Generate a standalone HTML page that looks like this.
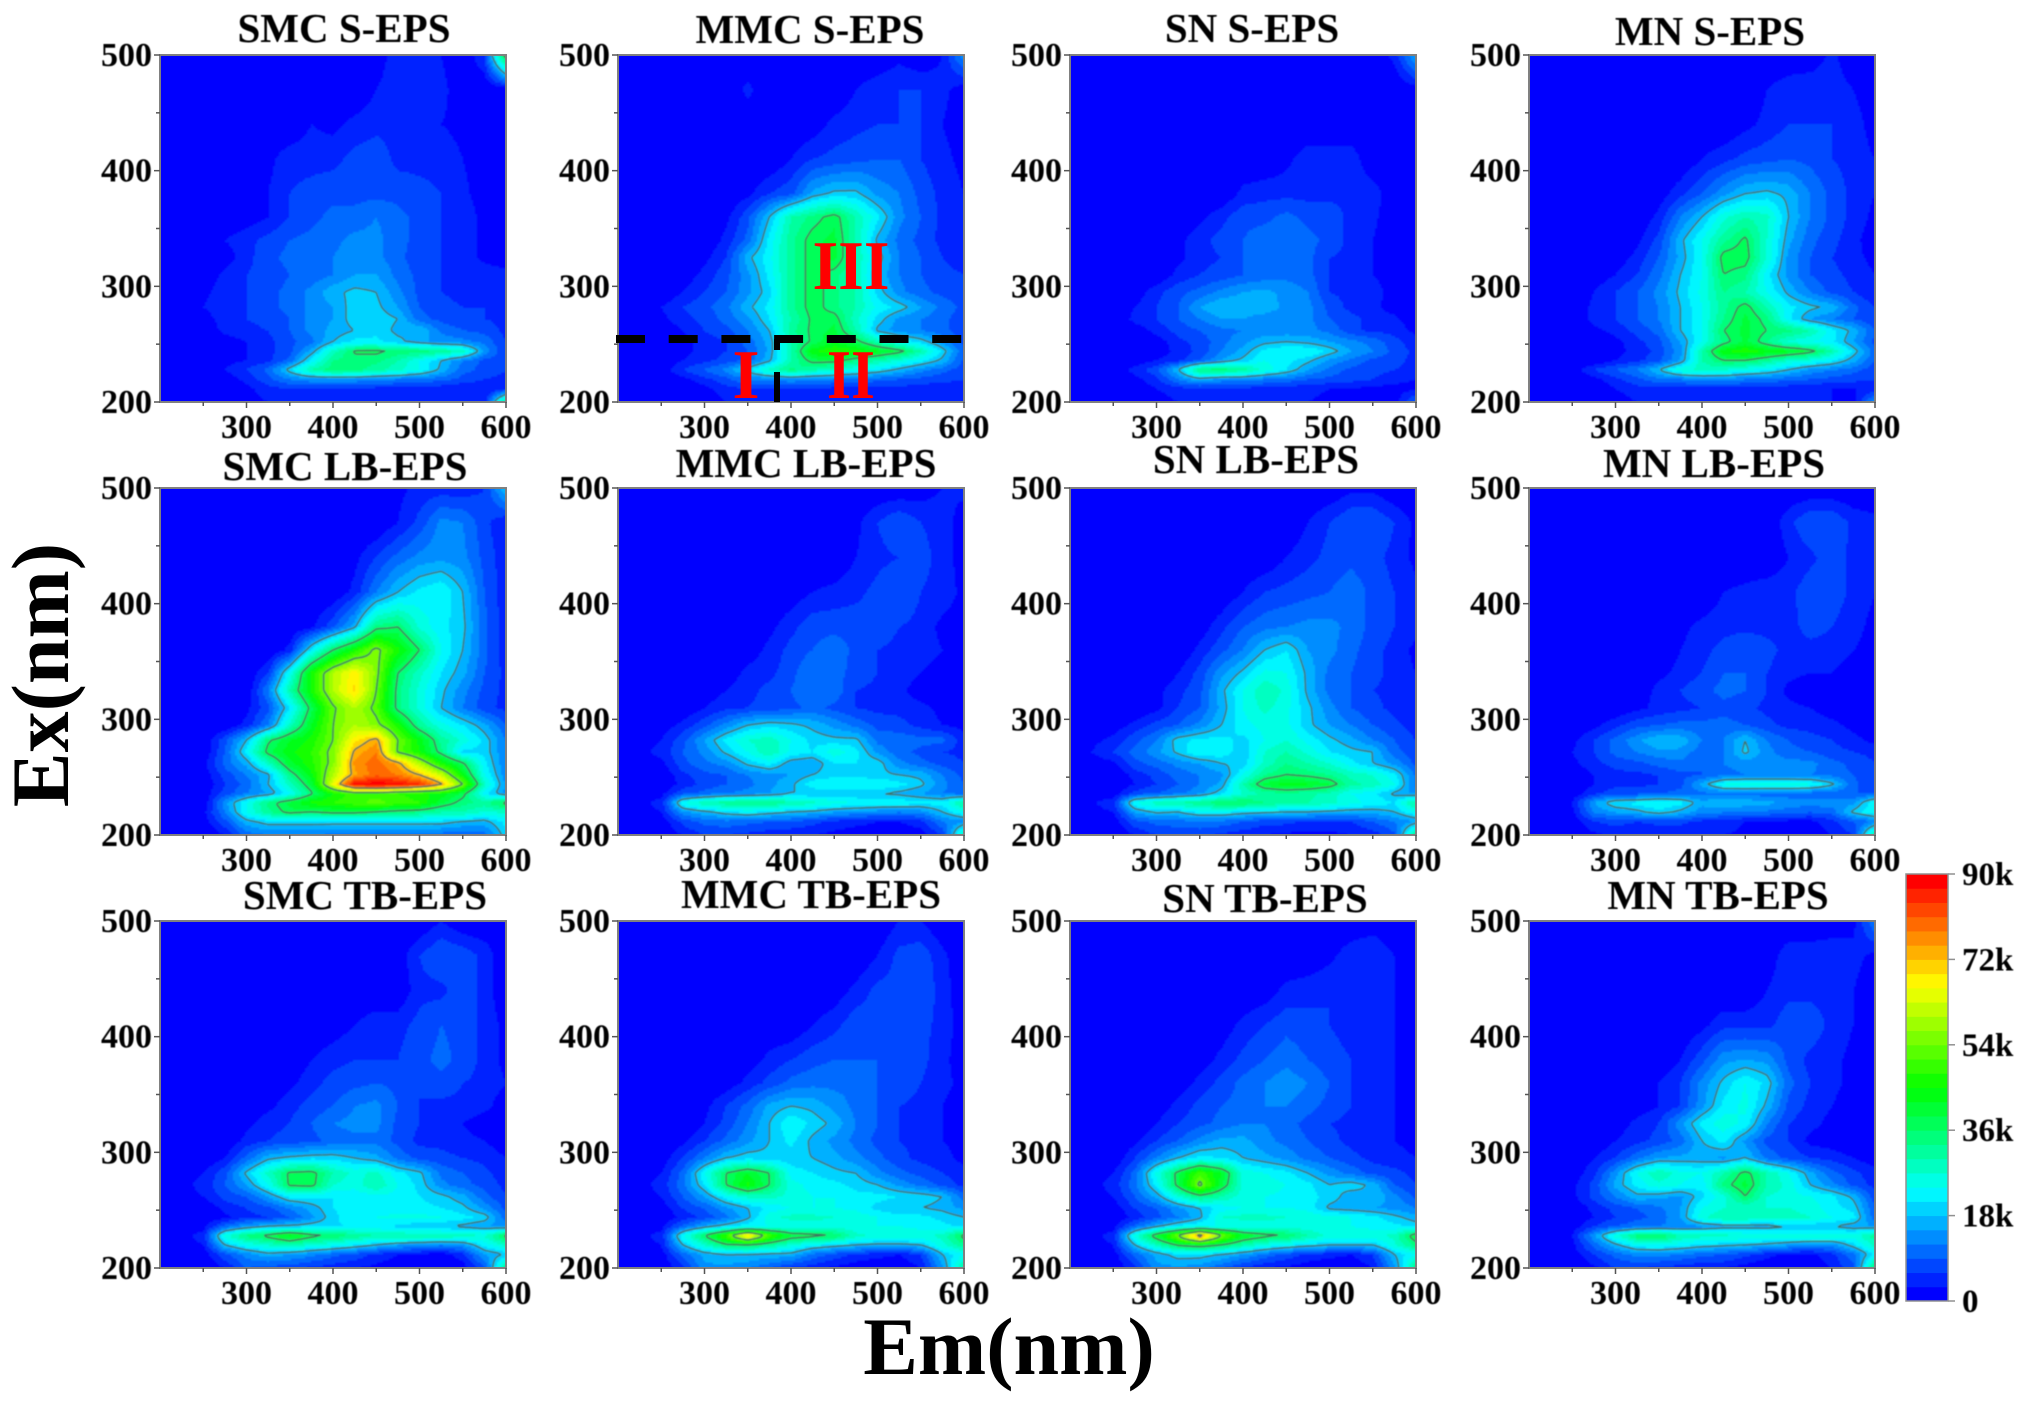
<!DOCTYPE html>
<html lang="en">
<head>
<meta charset="utf-8">
<title>EEM fluorescence contour panels</title>
<style>
html,body{margin:0;padding:0;background:#fff;width:2028px;height:1410px;overflow:hidden}
svg{display:block;position:absolute;left:0;top:0}
text{font-family:"Liberation Serif",serif;font-weight:bold;fill:#000}
</style>
</head>
<body>
<svg id="chart" xmlns="http://www.w3.org/2000/svg" width="2028" height="1410" viewBox="0 0 2028 1410">
<defs>
<filter id="soft" x="-5%" y="-5%" width="110%" height="110%"><feGaussianBlur stdDeviation="0.9"/></filter>
<filter id="softText" x="-5%" y="-5%" width="110%" height="110%"><feGaussianBlur stdDeviation="0.45"/></filter>
</defs>
<rect x="0" y="0" width="2028" height="1410" fill="#fff"/>
<g id="plots"></g>
<g id="colorbar"></g>
<g font-size="41" text-anchor="middle" filter="url(#softText)">
<text x="344" y="42">SMC S-EPS</text>
<text x="810" y="43">MMC S-EPS</text>
<text x="1252" y="42">SN S-EPS</text>
<text x="1710" y="45">MN S-EPS</text>
<text x="345" y="480">SMC LB-EPS</text>
<text x="806" y="477">MMC LB-EPS</text>
<text x="1256" y="473">SN LB-EPS</text>
<text x="1714" y="477">MN LB-EPS</text>
<text x="365" y="909">SMC TB-EPS</text>
<text x="811" y="908">MMC TB-EPS</text>
<text x="1265" y="912">SN TB-EPS</text>
<text x="1718" y="909">MN TB-EPS</text>
</g>
<text font-size="82" text-anchor="middle" transform="translate(68,675) rotate(-90)">Ex(nm)</text>
<text font-size="82" text-anchor="middle" transform="translate(1009,1374)">Em(nm)</text>
<g>
<line x1="616" y1="339" x2="962" y2="339" stroke="#000" stroke-width="8" stroke-dasharray="29 23.7"/>
<line x1="777" y1="402" x2="777" y2="339" stroke="#000" stroke-width="6" stroke-dasharray="30 22"/>
<text style="fill:#f00" font-size="70" text-anchor="middle" x="746" y="398">I</text>
<text style="fill:#f00" font-size="70" text-anchor="middle" x="851" y="398" textLength="48" lengthAdjust="spacingAndGlyphs">II</text>
<text style="fill:#f00" font-size="70" text-anchor="middle" x="851" y="289" textLength="77" lengthAdjust="spacingAndGlyphs">III</text>
</g>
</svg>
<script>
const emAxis=[200,250,275,300,325,350,375,400,425,450,475,500,525,550,575,600];
const exAxis=[500,470,440,410,380,360,340,325,310,295,282,272,262,252,244,236,228,220,212,200];
const emMajorTicks=[300,400,500,600];
const emMinorTicks=[250,350,450,550];
const exMajorTicks=[200,300,400,500];
const exMinorTicks=[250,350,450];
const colorbarTicks=[0,18,36,54,72,90];
const colorbarLabels=['0','18k','36k','54k','72k','90k'];
const contourLevels=[18,36,54,72];
const bandCount=30;
const maxIntensity=90;

const smcS=[
[0,0,0,0,0,0,0,0,0,1,5,5,3,0,6,40],
[0,0,0,0,0,0,0,0,0,3,5,5,4,1,0,0],
[0,0,0,0,0,0,3,2,4,5,5,5,3,2,0,0],
[0,0,0,0,2,5,5,5,7,8,5,5,5,3,1,2],
[0,0,0,0,3,6,7,8,8,8,8,7,6,4,1,2],
[0,0,0,1,3,6,8,10,10,12,10,8,6,5,2,1],
[0,0,3,5,7,9,10,11,13,13,10,8,6,5,2,1],
[0,0,1,5,8,10,11,12,14,13,10,7,6,5,2,1],
[0,0,4,6,7,9,10,12,15,15,11,8,6,5,5,4],
[0,2,5,6,8,10,13,17,19,18,13,8,6,5,4,3],
[0,3,5,6,8,10,13,15,20,19,15,9,7,6,6,4],
[0,1,5,6,7,9,13,15,20,20,18,10,8,7,6,5],
[0,0,4,5,6,9,13,16,18,20,17,18,11,9,8,5],
[0,0,1,3,5,8,11,18,22,22,19,16,14,13,11,6],
[0,0,1,3,5,8,16,28,36.5,37,35,34,32,28,14,6],
[0,0,2,3,5,10,22,33,35,34,30,24,18,12,8,6],
[0,0,3,6,10,20,30,35,34,31,28,24,17,10,8,6],
[0,0,1,4,8,12,14,14,14,13,12,11,10,8,6,5],
[0,0,0,2,5,6,6,6,6,5,5,5,4,3,3,3],
[0,0,0,1,3,3,3,3,3,3,3,3,3,3,3,35]];
const mmcS=[
[0,0,0,0,0,0,0,0,0,0,0,0,2,0,3,14],
[0,0,0,0,0,4,0,0,0,0,3,5,6,6,4,1],
[0,0,0,0,0,0,0,0,1,4,5,6,6,6,3,1],
[0,0,0,0,0,0,0,3,6,7,8,9,9,6,4,2],
[0,0,0,0,0,2,6,8,16,19,19,14,12,8,5,3],
[0,0,0,0,2,8,18,30,34,38,30,22,13,9,5,3],
[0,0,0,0,4,10,22,32,38,40,30,17,11,8,5,3],
[0,0,0,2,6,17,23,32,38,40,30,20,12,9,6,4],
[0,0,1,4,8,14,22,32,38,34,30,17,12,9,7,6],
[0,0,3,6,9,14,20,32,38,34,30,20,13,10,8,7],
[0,3,6,8,11,17,22,32,38,34,30,23,20,15,11,8],
[0,2,5,7,10,14,21,30,37,38,28,20,14,12,10,7],
[0,0,3,6,8,12,18,32,37,40,30,17,13,12,10,7],
[0,0,2,4,6,10,16,30,37,42,38,30,24,20,14,8],
[0,0,2,4,6,9,16,30,44,48,46,42,38,30,20,9],
[0,0,3,5,7,10,17,30,38,38,33,30,26,22,17,8],
[0,1,6,9,13,20,28,34,30,27,24,21,17,13,10,7],
[0,0,2,5,8,12,13,14,13,12,11,10,9,8,7,6],
[0,0,0,2,5,6,6,6,6,5,5,5,5,4,4,4],
[0,0,0,0,3,3,3,3,3,3,3,3,3,3,3,6]];
const snS=[
[0,0,0,0,0,0,0,0,0,0,0,0,0,0,4,16],
[0,0,0,0,0,0,0,0,0,0,0,1,3,0,0,1],
[0,0,0,0,0,0,0,0,0,0,0,0,0,0,0,0],
[0,0,0,0,0,0,0,0,0,2,5,5,5,0,0,0],
[0,0,0,0,0,0,0,4,5,5,5,5,5,5,0,0],
[0,0,0,0,0,2,5,8,8,10,8,8,5,4,0,0],
[0,0,0,0,2,5,7,9,11,12,10,8,5,3,0,0],
[0,0,0,0,2,5,6,9,10,11,10,6,5,3,0,0],
[0,0,0,0,4,6,7,9,10,11,10,6,4,3,1,0],
[0,0,1,5,8,10,13,15,16,14,12,6,5,5,1,0],
[0,0,3,6,9,15,18,17,17,14,13,8,5,4,1,0],
[0,0,4,6,9,12,15,15,13,13,13,9,7,5,4,0],
[0,0,1,4,7,9,11,12,13,13,13,11,7,5,5,2],
[0,0,0,1,5,7,11,14,17,18,17,15,13,11,7,4],
[0,0,0,1,4,7,12,16,22,24,24,20,15,12,8,5],
[0,0,1,3,5,9,15,19,24,22,19,14,11,8,7,5],
[0,1,4,8,18,34,35,32,26,21,15,11,8,7,6,5],
[0,0,2,5,12,17,14,14,12,11,9,8,7,6,4,3],
[0,0,1,3,5,5,5,5,5,4,4,3,3,2,2,2],
[0,0,0,1,3,3,3,3,3,3,3,2,1,0,1,10]];
const mnS=[
[0,0,0,0,0,0,0,0,0,0,0,0,0,4,0,0],
[0,0,0,0,0,0,0,0,0,0,3,5,6,5,3,0],
[0,0,0,0,0,0,0,0,0,2,4,6,6,6,5,1],
[0,0,0,0,0,0,0,3,5,7,8,9,8,6,5,3],
[0,0,0,0,0,1,5,9,14,18,19,17,12,8,5,3],
[0,0,0,0,0,4,12,18,26,30,28,18,12,8,5,2],
[0,0,0,0,2,7,17,24,32,37,27,16,10,7,4,1],
[0,0,0,1,4,9,16,24,38,38,27,14,9,6,4,2],
[0,0,1,3,6,11,18,24,36,34,22,14,9,7,5,3],
[0,0,3,6,9,13,19,25,33,30,24,17,12,8,6,3],
[0,0,4,6,9,12,18,24,32,38,30,22,19,17,10,6],
[0,0,4,6,9,12,18,24,33,40,34,22,15,12,9,6],
[0,0,2,4,7,10,18,24,36,40,36,34,30,22,17,9],
[0,0,0,2,5,8,15,24,34,40,33,26,24,22,15,8],
[0,0,0,2,4,7,14,30,44,47,44,42,38,30,20,10],
[0,0,0,3,5,8,15,30,36,36,32,27,25,22,16,9],
[0,1,6,9,12,18,26,28,27,24,22,18,14,12,10,7],
[0,0,2,5,8,11,12,13,13,12,11,10,9,8,7,6],
[0,0,0,3,5,5,5,5,5,5,4,4,3,3,3,3],
[0,0,0,1,3,3,3,3,3,3,3,3,3,3,2,14]];
const smcLb=[
[0,0,0,0,0,0,0,0,0,0,2,4,4,4,6,18],
[0,0,0,0,0,0,0,0,0,0,3,7,13,12,7,3],
[0,0,0,0,0,0,0,0,2,6,10,13,14,13,8,4],
[0,0,0,0,0,0,0,0,4,12,18,22,24,18,9,4],
[0,0,0,0,0,0,2,8,17,34,36,26,22,19,10,4],
[0,0,0,0,0,4,22,36,46,56,46,36,24,18,10,4],
[0,0,0,0,6,24,46,60,68,56,36,28,21,16,9,5],
[0,0,0,0,12,30,46,60,70,54,34,26,19,13,8,5],
[0,0,0,2,8,21,38,53,60,52,34,26,18,12,7,5],
[0,0,0,4,12,28,42,54,60,56,46,32,25,21,16,9],
[0,0,8,18,35,42,46,54,68,74,54,44,32,26,20,12],
[0,0,9,22,38,44,48,56,73,78,53,45,34,20,20,12],
[0,2,10,16,28,41,47,56,76,80,74,60,46,37,22,12],
[0,1,7,12,17,33,44,60,74,80,78,72,62,44,24,13],
[0,0,6,10,18,28,40,65,88,90,88,84,73,54,28,14],
[0,1,7,12,15,23,35,45,50,50,48,46,44,38,22,14],
[0,0,14,24,34,40,46,48,50,52,50,48,40,34,32,38],
[0,2,12,24,32,38,36,38,38,36,34,33,30,30,26,28],
[0,1,8,17,20,20,20,20,20,20,20,20,20,18,17,22],
[0,0,3,10,12,12,12,11,11,11,11,11,10,9,10,20]];
const mmcLb=[
[0,0,0,0,0,0,0,0,0,0,0,0,0,1,3,4],
[0,0,0,0,0,0,0,0,0,0,2,6,9,6,5,1],
[0,0,0,0,0,0,0,0,0,0,3,5,6,7,5,1],
[0,0,0,0,0,0,0,1,3,4,5,7,9,6,5,2],
[0,0,0,0,0,0,2,5,8,8,8,8,6,5,2,1],
[0,0,0,0,0,1,4,7,9,11,8,6,5,5,3,1],
[0,0,0,0,1,4,5,8,12,10,8,6,5,3,1,0],
[0,0,0,1,3,5,7,9,12,11,6,5,4,1,0,0],
[0,0,0,3,5,6,7,8,10,8,6,5,5,4,2,1],
[0,1,4,8,13,18,20,19,17,14,11,8,7,5,3,2],
[0,3,8,15,22,27,29,24,20,19,19,11,11,10,10,4],
[0,4,9,13,19,24,30,23,21,26,22,14,10,8,6,5],
[0,2,8,11,13,19,22,16,15,21,21,20,13,10,8,6],
[0,0,5,8,9,12,14,15,18,20,20,19,18,17,12,8],
[0,0,4,7,9,11,14,17,23,24,24,24,22,19,13,9],
[0,2,8,10,12,13,15,18,18,19,18,18,17,15,12,10],
[0,4,24,30,32,34,33,30,28,25,24,23,23,22,22,32],
[0,3,14,17,20,22,20,18,17,15,14,13,12,13,18,24],
[0,1,7,10,11,10,9,9,7,5,4,3,3,5,12,14],
[0,0,3,6,6,5,4,3,3,2,1,1,0,1,6,30]];
const snLb=[
[0,0,0,0,0,0,0,0,0,0,0,0,2,2,0,0],
[0,0,0,0,0,0,0,0,0,0,3,6,9,9,6,2],
[0,0,0,0,0,0,0,0,0,3,5,7,8,7,5,2],
[0,0,0,0,0,0,0,3,6,7,8,9,11,8,6,4],
[0,0,0,0,0,1,5,9,11,12,13,13,11,8,6,4],
[0,0,0,0,0,4,8,12,18,21,15,13,10,7,5,2],
[0,0,0,0,3,7,14,19,25,24,17,11,9,7,5,3],
[0,0,0,2,5,8,17,24,30,26,17,11,9,6,5,3],
[0,0,0,2,6,9,16,24,28,25,19,13,9,7,5,3],
[0,1,4,7,9,13,18,23,25,25,19,15,12,9,7,4],
[0,4,8,12,20,22,22,20,24,27,23,19,16,12,9,6],
[0,6,10,14,19,24,23,19,27,30,26,21,19,18,10,7],
[0,2,8,10,13,15,18,19,28,33,30,27,22,18,14,8],
[0,0,4,7,10,12,14,24,33,36,35,33,29,27,22,11],
[0,0,3,6,9,12,16,30,40,43,42,39,31,29,24,11],
[0,1,7,9,11,14,20,27,31,32,31,29,24,22,17,14],
[0,5,24,29,31,32,36,36,33,31,30,28,25,23,21,32],
[0,3,15,19,18,22,22,20,19,18,18,17,16,16,18,24],
[0,1,8,10,11,11,11,9,7,7,5,5,6,9,12,15],
[0,0,3,6,6,7,5,4,3,2,2,2,3,4,8,34]];
const mnLb=[
[0,0,0,0,0,0,0,0,0,0,0,0,0,0,0,0],
[0,0,0,0,0,0,0,0,0,0,0,5,9,9,5,4],
[0,0,0,0,0,0,0,0,0,0,0,3,5,8,5,3],
[0,0,0,0,0,0,0,0,3,4,5,5,8,8,5,3],
[0,0,0,0,0,0,2,4,5,5,5,5,7,6,4,2],
[0,0,0,0,0,0,3,5,7,9,7,5,5,5,3,2],
[0,0,0,0,0,2,4,6,9,9,6,4,3,3,1,0],
[0,0,0,0,1,4,6,8,10,9,6,2,0,0,0,0],
[0,0,0,0,2,4,5,6,8,7,5,4,3,1,0,0],
[0,0,2,5,8,9,10,10,10,9,7,5,5,4,2,1],
[0,2,6,10,14,18,17,12,12,18,12,9,7,6,4,2],
[0,3,6,10,12,14,14,10,12,19,13,10,9,7,6,5],
[0,2,5,7,8,10,11,9,12,13,14,13,13,10,8,6],
[0,0,3,5,5,6,8,9,11,12,12,12,12,11,9,6],
[0,0,3,5,5,6,8,16,24,25,25,25,24,19,10,6],
[0,1,5,8,8,9,10,11,11,11,10,10,10,10,9,9],
[0,3,15,21,22,24,22,16,18,17,16,14,13,14,14,24],
[0,2,12,15,17,20,17,13,12,11,11,10,9,10,19,24],
[0,1,6,7,6,7,7,5,5,3,3,2,2,5,9,12],
[0,0,2,4,3,3,3,3,3,2,1,0,0,3,6,32]];
const smcTb=[
[0,0,0,0,0,0,0,0,0,0,0,0,3,0,0,3],
[0,0,0,0,0,0,0,0,0,0,1,6,9,8,5,0],
[0,0,0,0,0,0,0,0,0,0,0,5,5,8,5,0],
[0,0,0,0,0,0,0,1,3,5,5,7,9,8,5,2],
[0,0,0,0,0,0,3,5,6,6,6,8,10,8,5,2],
[0,0,0,0,0,2,5,7,8,9,8,6,8,6,5,3],
[0,0,0,0,2,5,7,9,12,13,9,6,5,5,4,1],
[0,0,0,2,5,6,9,12,13,13,8,6,4,3,1,0],
[0,0,0,4,6,7,8,10,11,11,8,5,5,4,3,1],
[0,0,3,10,17,19,20,20,18,16,11,8,7,6,5,3],
[0,3,8,19,28,37,38,30,26,28,22,19,11,9,7,4],
[0,4,9,15,24,37,38,27,25,30,24,20,13,10,8,5],
[0,3,7,9,15,22,22,21,22,23,23,21,19,16,10,6],
[0,0,4,6,8,12,16,21,22,22,22,22,21,19,14,8],
[0,0,2,5,6,9,14,20,24,24,25,25,24,22,20,10],
[0,2,10,15,18,19,20,20,22,22,20,18,18,17,15,14],
[0,4,26,34,38,44,38,36,32,30,30,30,30,29,27,38],
[0,3,18,24,27,30,26,24,21,18,15,14,12,14,22,28],
[0,1,8,13,17,15,13,10,8,5,3,2,1,5,15,18],
[0,0,3,9,7,7,5,4,3,2,1,0,0,1,8,34]];
const mmcTb=[
[0,0,0,0,0,0,0,0,0,0,0,0,3,3,0,0],
[0,0,0,0,0,0,0,0,0,0,0,3,7,8,4,0],
[0,0,0,0,0,0,0,0,0,1,4,7,7,8,5,0],
[0,0,0,0,0,0,0,0,3,5,8,7,9,7,5,1],
[0,0,0,0,0,1,4,6,8,9,9,9,9,7,4,1],
[0,0,0,0,1,4,7,10,11,11,11,9,8,6,4,2],
[0,0,0,2,6,10,16,18,17,14,11,9,6,5,3,1],
[0,0,0,3,7,12,18,24,20,17,12,9,6,5,3,1],
[0,0,2,6,10,14,18,22,17,14,11,8,6,5,3,2],
[0,1,6,12,18,20,19,19,18,16,13,10,7,5,4,2],
[0,3,10,24,36,42,36,23,21,19,18,13,10,8,6,4],
[0,4,11,21,36,46,36,25,23,22,20,18,14,11,8,5],
[0,3,9,15,23,28,28,26,24,24,22,22,21,20,18,10],
[0,1,6,9,14,18,22,24,24,24,23,20,18,18,17,14],
[0,0,4,7,11,17,26,28,28,27,26,24,22,22,20,18],
[0,2,10,16,20,23,24,24,25,25,25,24,24,23,22,20],
[0,4,24,36,50,70,50,40,38,36,28,26,26,26,28,38],
[0,3,18,27,35,36,32,26,22,20,18,17,17,18,26,32],
[0,1,10,16,18,18,17,17,11,8,5,4,3,6,18,24],
[0,0,5,14,14,12,9,5,4,2,1,0,0,3,14,32]];
const snTb=[
[0,0,0,0,0,0,0,0,0,0,0,0,0,1,0,3],
[0,0,0,0,0,0,0,0,0,0,0,2,5,6,3,2],
[0,0,0,0,0,0,0,0,1,4,5,6,6,5,3,1],
[0,0,0,0,0,0,1,4,6,8,7,6,5,5,3,2],
[0,0,0,0,0,1,4,7,9,11,9,7,6,4,3,1],
[0,0,0,0,1,4,7,10,12,14,12,9,6,5,3,1],
[0,0,0,1,4,7,9,10,12,12,10,8,6,5,3,2],
[0,0,0,3,6,8,10,12,12,10,8,6,5,4,3,1],
[0,0,2,6,9,13,16,16,13,11,9,7,5,4,3,2],
[0,0,6,12,18,22,21,18,16,14,11,9,7,5,4,3],
[0,3,10,25,38,50,42,26,24,22,18,14,11,8,7,5],
[0,4,11,22,38,56,40,26,26,24,22,18,20,17,9,6],
[0,3,9,16,26,34,30,25,24,23,22,20,16,18,13,8],
[0,1,6,9,14,18,22,24,24,24,23,17,16,15,14,12],
[0,0,4,8,12,17,27,28,28,27,26,25,24,22,19,16],
[0,2,10,17,22,24,24,24,25,25,25,24,24,23,22,20],
[0,4,26,40,55,78,55,42,38,36,30,26,26,26,28,40],
[0,3,18,28,37,40,36,30,25,22,20,18,18,18,26,34],
[0,1,10,16,20,20,18,15,11,8,5,4,3,6,18,24],
[0,0,5,14,14,13,9,5,3,2,1,0,0,3,14,34]];
const mnTb=[
[0,0,0,0,0,0,0,0,0,0,0,0,0,1,2,12],
[0,0,0,0,0,0,0,0,0,0,1,5,5,5,4,2],
[0,0,0,0,0,0,0,0,0,0,3,5,5,5,3,1],
[0,0,0,0,0,0,0,2,5,5,5,8,8,5,3,1],
[0,0,0,0,0,0,3,8,14,15,14,8,5,4,2,1],
[0,0,0,0,0,3,6,13,19,24,20,10,6,4,2,1],
[0,0,0,0,1,3,6,14,22,25,17,8,5,3,1,0],
[0,0,0,1,4,6,14,22,26,23,12,6,4,2,1,0],
[0,0,0,3,5,7,10,18,22,14,8,6,2,1,0,0],
[0,0,3,6,11,15,16,16,14,18,11,8,6,5,3,1],
[0,1,5,14,24,30,25,24,30,38,30,24,16,10,7,4],
[0,2,7,16,22,26,24,22,34,40,30,26,18,13,8,5],
[0,2,7,12,17,16,14,20,26,36,27,25,24,22,17,7],
[0,0,4,7,9,11,15,24,27,27,27,27,26,22,20,9],
[0,0,3,6,8,10,15,26,30,30,29,28,27,24,22,10],
[0,1,6,9,11,12,13,14,16,16,16,18,18,18,16,15],
[0,3,14,26,35,37,30,28,28,27,26,26,26,26,25,32],
[0,2,10,17,23,24,22,20,19,18,17,15,13,13,20,28],
[0,1,6,10,13,13,12,10,9,7,4,2,2,5,11,22],
[0,0,2,6,6,5,4,3,3,1,0,0,1,3,8,36]];

const panelGrids=[smcS,mmcS,snS,mnS,smcLb,mmcLb,snLb,mnLb,smcTb,mmcTb,snTb,mnTb];
const panelSlugs=['smc-s','mmc-s','sn-s','mn-s','smc-lb','mmc-lb','sn-lb','mn-lb','smc-tb','mmc-tb','sn-tb','mn-tb'];

const SVG_NS='http://www.w3.org/2000/svg';
const plotsRoot=document.getElementById('plots');
const colorbarRoot=document.getElementById('colorbar');
const columnLefts=[160,618,1070,1529];
const rowTops=[55,488,921];
const panelW=346;
const panelH=347;
const STEP=2;

function make(tag,parent){
  const el=document.createElementNS(SVG_NS,tag);
  parent.appendChild(el);
  return el;
}
function xScale(em){return (em-200)/400*panelW;}
function yScale(ex){return (500-ex)/300*panelH;}
function bandIndex(v){return Math.max(0,Math.min(bandCount-1,Math.floor(v/maxIntensity*bandCount)));}
function bandColor(i){
  const t=i/(bandCount-1);
  const s=t*4;
  let r=0,g=0,b=0;
  if(s<1){r=0;g=s;b=1;}
  else if(s<2){r=0;g=1;b=2-s;}
  else if(s<3){r=s-2;g=1;b=0;}
  else{r=1;g=4-s;b=0;}
  return 'rgb('+Math.round(r*255)+','+Math.round(g*255)+','+Math.round(b*255)+')';
}
function emFraction(em){
  for(let j=0;j<emAxis.length-1;j++){
    if(em<=emAxis[j+1]){return [j,(em-emAxis[j])/(emAxis[j+1]-emAxis[j])];}
  }
  return [emAxis.length-2,1];
}
function exFraction(ex){
  for(let i=0;i<exAxis.length-1;i++){
    if(ex>=exAxis[i+1]){return [i,(exAxis[i]-ex)/(exAxis[i]-exAxis[i+1])];}
  }
  return [exAxis.length-2,1];
}
function sampleGrid(grid,em,ex){
  const a=emFraction(em),b=exFraction(ex);
  const j=a[0],fx=a[1],i=b[0],fy=b[1];
  const top=grid[i][j]*(1-fx)+grid[i][j+1]*fx;
  const bot=grid[i+1][j]*(1-fx)+grid[i+1][j+1]*fx;
  return top*(1-fy)+bot*fy;
}
function contourPath(vals,level,nx,ny){
  const out=[];
  function cross(a,b){return (level-a)/(b-a);}
  for(let r=0;r<ny-1;r++){
    for(let c=0;c<nx-1;c++){
      const a=vals[r][c],b=vals[r][c+1],d=vals[r+1][c],e=vals[r+1][c+1];
      const x=c*STEP,y=r*STEP;
      const pts=[];
      if((a<level)!==(b<level)){pts.push([x+cross(a,b)*STEP,y]);}
      if((b<level)!==(e<level)){pts.push([x+STEP,y+cross(b,e)*STEP]);}
      if((d<level)!==(e<level)){pts.push([x+cross(d,e)*STEP,y+STEP]);}
      if((a<level)!==(d<level)){pts.push([x,y+cross(a,d)*STEP]);}
      if(pts.length>=2){out.push('M'+pts[0][0].toFixed(1)+' '+pts[0][1].toFixed(1)+'L'+pts[1][0].toFixed(1)+' '+pts[1][1].toFixed(1));}
      if(pts.length===4){out.push('M'+pts[2][0].toFixed(1)+' '+pts[2][1].toFixed(1)+'L'+pts[3][0].toFixed(1)+' '+pts[3][1].toFixed(1));}
    }
  }
  return out.join('');
}

const defsEl=document.querySelector('defs');
panelGrids.forEach(function(grid,p){
  const slug=panelSlugs[p];
  const left=columnLefts[p%4];
  const top=rowTops[Math.floor(p/4)];
  const g=make('g',plotsRoot);
  
  
  g.setAttribute('transform','translate('+left+','+top+')');

  const clip=document.createElementNS(SVG_NS,'clipPath');
  clip.setAttribute('id','clip-'+slug);
  defsEl.appendChild(clip);
  const clipRect=make('rect',clip);
  clipRect.setAttribute('width',panelW);
  clipRect.setAttribute('height',panelH);

  const holder=make('g',g);
  
  
  holder.setAttribute('clip-path','url(#clip-'+slug+')');

  const bg=make('rect',holder);
  
  
  bg.setAttribute('width',panelW);
  bg.setAttribute('height',panelH);
  bg.setAttribute('fill',bandColor(0));

  const soft=make('g',holder);
  soft.setAttribute('filter','url(#soft)');

  const nx=Math.ceil(panelW/STEP)+1;
  const ny=Math.ceil(panelH/STEP)+1;
  const vals=[];
  for(let r=0;r<ny;r++){
    const row=[];
    const ex=500-(r*STEP)/panelH*300;
    for(let c=0;c<nx;c++){
      const em=200+(c*STEP)/panelW*400;
      row.push(sampleGrid(grid,Math.min(600,em),Math.max(200,ex)));
    }
    vals.push(row);
  }
  const bandPaths=[];
  for(let k=0;k<bandCount;k++){bandPaths.push([]);}
  for(let r=0;r<ny;r++){
    let start=0;
    let cur=bandIndex(vals[r][0]);
    for(let c=1;c<=nx;c++){
      const bi=c<nx?bandIndex(vals[r][c]):-1;
      if(bi!==cur){
        bandPaths[cur].push('M'+(start*STEP-1)+' '+(r*STEP-1)+'h'+((c-start)*STEP)+'v'+(STEP+0.4)+'h'+(-(c-start)*STEP)+'z');
        start=c;cur=bi;
      }
    }
  }
  for(let k=1;k<bandCount;k++){
    if(!bandPaths[k].length){continue;}
    const path=make('path',soft);
    
    
    path.setAttribute('d',bandPaths[k].join(''));
    path.setAttribute('fill',bandColor(k));
    path.setAttribute('shape-rendering','crispEdges');
  }
  contourLevels.forEach(function(level){
    const d=contourPath(vals,level,nx,ny);
    if(!d){return;}
    const line=make('path',soft);
    
    
    line.setAttribute('d',d);
    line.setAttribute('fill','none');
    line.setAttribute('stroke','#3f6f60');
    line.setAttribute('stroke-width','1.6');
  });

  const frame=make('rect',g);
  
  
  frame.setAttribute('width',panelW);
  frame.setAttribute('height',panelH);
  frame.setAttribute('fill','none');
  frame.setAttribute('stroke','#808080');
  frame.setAttribute('stroke-width','2');

  emMajorTicks.concat(emMinorTicks).forEach(function(em){
    const major=emMajorTicks.indexOf(em)>=0;
    const t=make('line',g);
    
    
    t.setAttribute('x1',xScale(em));
    t.setAttribute('x2',xScale(em));
    t.setAttribute('y1',panelH);
    t.setAttribute('y2',panelH+(major?6:4));
    t.setAttribute('stroke','#555');
    t.setAttribute('stroke-width','1.5');
  });
  exMajorTicks.concat(exMinorTicks).forEach(function(ex){
    const major=exMajorTicks.indexOf(ex)>=0;
    const t=make('line',g);
    
    
    t.setAttribute('x1',0);
    t.setAttribute('x2',major?-6:-4);
    t.setAttribute('y1',yScale(ex));
    t.setAttribute('y2',yScale(ex));
    t.setAttribute('stroke','#555');
    t.setAttribute('stroke-width','1.5');
  });
  emMajorTicks.forEach(function(em){
    const t=make('text',g);
    
    
    t.setAttribute('x',xScale(em));
    t.setAttribute('y',panelH+36);
    t.setAttribute('font-size','34');
    t.setAttribute('text-anchor','middle');
    t.setAttribute('filter','url(#softText)');
    t.textContent=String(em);
  });
  exMajorTicks.forEach(function(ex){
    const t=make('text',g);
    
    
    t.setAttribute('x',-8);
    t.setAttribute('y',yScale(ex)+11);
    t.setAttribute('font-size','34');
    t.setAttribute('text-anchor','end');
    t.setAttribute('filter','url(#softText)');
    t.textContent=String(ex);
  });
});

const cbLeft=1906,cbWidth=42,cbTop=874,cbBottom=1301;
function cbScale(v){return cbBottom-(v/maxIntensity)*(cbBottom-cbTop);}
for(let k=0;k<bandCount;k++){
  const v0=k/bandCount*maxIntensity;
  const v1=(k+1)/bandCount*maxIntensity;
  const band=make('rect',colorbarRoot);
  
  
  band.setAttribute('x',cbLeft);
  band.setAttribute('y',cbScale(v1));
  band.setAttribute('width',cbWidth);
  band.setAttribute('height',cbScale(v0)-cbScale(v1)+0.5);
  band.setAttribute('fill',bandColor(k));
}
const cbFrame=make('rect',colorbarRoot);


cbFrame.setAttribute('x',cbLeft);
cbFrame.setAttribute('y',cbTop);
cbFrame.setAttribute('width',cbWidth);
cbFrame.setAttribute('height',cbBottom-cbTop);
cbFrame.setAttribute('fill','none');
cbFrame.setAttribute('stroke','#909090');
cbFrame.setAttribute('stroke-width','1.5');
colorbarTicks.forEach(function(v,idx){
  const tick=make('line',colorbarRoot);
  
  
  tick.setAttribute('x1',cbLeft+cbWidth);
  tick.setAttribute('x2',cbLeft+cbWidth+7);
  tick.setAttribute('y1',cbScale(v));
  tick.setAttribute('y2',cbScale(v));
  tick.setAttribute('stroke','#909090');
  tick.setAttribute('stroke-width','1.5');
  const label=make('text',colorbarRoot);
  
  
  label.setAttribute('x',1962);
  label.setAttribute('y',cbScale(v)+11);
  label.setAttribute('font-size','33');
  label.setAttribute('filter','url(#softText)');
  label.textContent=colorbarLabels[idx];
});
</script>
</body>
</html>
